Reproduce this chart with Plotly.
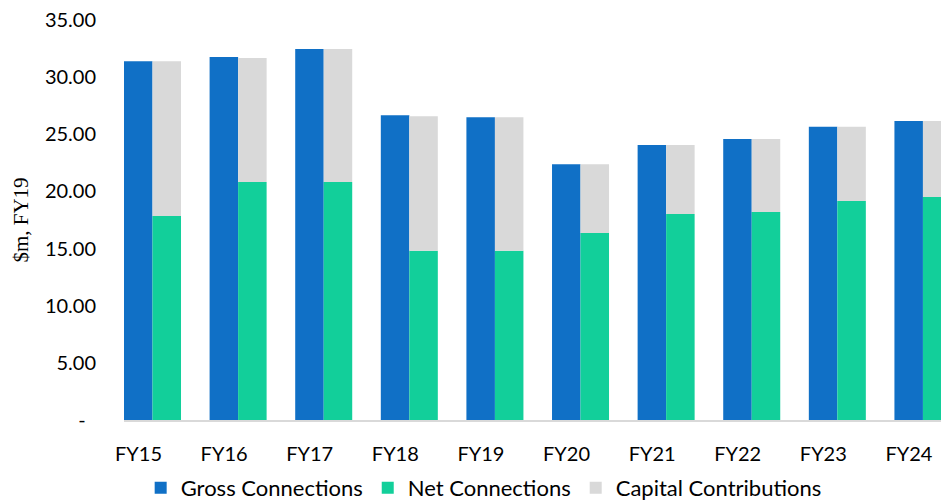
import plotly.graph_objects as go

# Connection expenditure, $m FY19
years = ["FY15", "FY16", "FY17", "FY18", "FY19", "FY20", "FY21", "FY22", "FY23", "FY24"]
gross_connections = [31.38, 31.76, 32.46, 26.66, 26.48, 22.37, 24.06, 24.58, 25.66, 26.16]
net_connections = [17.85, 20.82, 20.82, 14.81, 14.81, 16.36, 18.02, 18.20, 19.16, 19.51]
capital_contributions = [13.53, 10.85, 11.64, 11.76, 11.67, 6.01, 6.04, 6.38, 6.50, 6.65]

y_tick_values = [0, 5, 10, 15, 20, 25, 30, 35]
y_tick_labels = ["-\u00a0\u00a0", "5.00", "10.00", "15.00", "20.00", "25.00", "30.00", "35.00"]

BLUE = "#1070C6"
GREEN = "#12CF9A"
GREY = "#D9D9D9"
FONT = "Lato"

fig = go.Figure()
fig.add_trace(go.Bar(
    name="Gross Connections", x=years, y=gross_connections,
    marker=dict(color=BLUE, line=dict(width=0)), offsetgroup="gross",
))
fig.add_trace(go.Bar(
    name="Net Connections", x=years, y=net_connections,
    marker=dict(color=GREEN, line=dict(width=0)), offsetgroup="net",
))
fig.add_trace(go.Bar(
    name="Capital Contributions", x=years, y=capital_contributions,
    base=net_connections,
    marker=dict(color=GREY, line=dict(width=0)), offsetgroup="net",
))

fig.update_layout(
    width=941, height=503,
    margin=dict(l=124, r=0, t=20, b=83),
    barmode="group", bargap=0.334, bargroupgap=0,
    plot_bgcolor="white", paper_bgcolor="white",
    font=dict(family=FONT, size=20, color="#000000"),
    showlegend=True,
    legend=dict(
        orientation="h", xref="container", yref="container",
        x=0.514, xanchor="center", y=0.03, yanchor="middle",
        font=dict(family=FONT, size=22, color="#000000"),
        itemwidth=30, traceorder="normal",
    ),
)

fig.update_xaxes(
    type="category", range=[-0.333, 9.211],
    showline=True, linecolor=GREY, linewidth=2,
    showgrid=False, ticks="", ticklabelshift=-14, ticklabelstandoff=15,
    tickfont=dict(family=FONT, size=20, color="#000000"),
)
fig.update_yaxes(
    range=[0, 35], showgrid=False, zeroline=False, showline=False,
    tickvals=y_tick_values, ticktext=y_tick_labels, ticks="",
    ticklabelstandoff=27,
    tickfont=dict(family=FONT, size=20, color="#000000"),
    title=dict(text="$m, FY19", font=dict(family="Liberation Serif", size=21, color="#000000"),
               standoff=10),
)

fig.write_html("out.html")
